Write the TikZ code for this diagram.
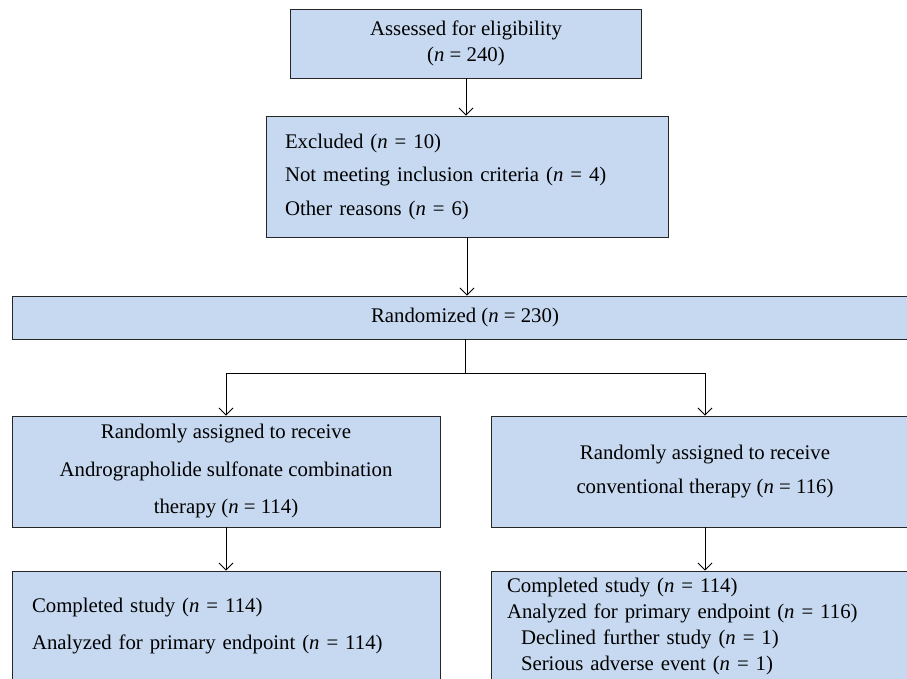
\documentclass[tikz,border=0pt]{standalone}
\usepackage{fontspec}
\setmainfont{Liberation Serif}
\usetikzlibrary{arrows.meta}
\definecolor{boxblue}{RGB}{198,217,240}
\newcommand{\nn}{\textit{n}}
\tikzset{
  boite/.style={draw=black!85, fill=boxblue, line width=0.9pt, inner sep=0pt},
  fleche/.style={-{Straight Barb[length=7pt,width=14pt]}, line width=0.8pt},
}
\begin{document}
\begin{tikzpicture}[x=1pt, y=-1pt, font=\fontsize{20.8}{26}\selectfont]
                \useasboundingbox (0,0) rectangle (907,679);
                \clip (0,0) rectangle (907,679);
                % Boites
                \node[boite, minimum width=351pt, minimum height=69pt, align=center] (eligible) at (466,43.5)
                    {Assessed for eligibility\\(\nn{} = 240)};
                \node[boite, minimum width=402pt, minimum height=121pt, inner xsep=19pt, text width=364pt, align=left,
                      font=\fontsize{20.8}{33.5}\selectfont] (excluded) at (467,176.5)
                    {Excluded (\nn{} = 10)\\Not meeting inclusion criteria (\nn{} = 4)\\Other reasons (\nn{} = 6)};
                \node[boite, minimum width=906pt, minimum height=43pt] (randomized) at (465,317.5)
                    {Randomized (\nn{} = 230)};
                \node[boite, minimum width=428pt, minimum height=111pt, align=center,
                      font=\fontsize{20.8}{37.5}\selectfont] (andro) at (226,471.5)
                    {Randomly assigned to receive\\Andrographolide sulfonate combination\\therapy (\nn{} = 114)};
                \node[boite, minimum width=428pt, minimum height=111pt, align=center,
                      font=\fontsize{20.8}{34}\selectfont] (conv) at (705,471.5)
                    {Randomly assigned to receive\\conventional therapy (\nn{} = 116)};
                \node[boite, minimum width=428pt, minimum height=110pt, inner xsep=20pt, text width=388pt, align=left,
                      font=\fontsize{20.8}{37}\selectfont] (androdone) at (226,626)
                    {Completed study (\nn{} = 114)\\Analyzed for primary endpoint (\nn{} = 114)};
                \node[boite, minimum width=428pt, minimum height=110pt, inner xsep=16pt, text width=396pt, align=left,
                      font=\fontsize{20.8}{26}\selectfont] (convdone) at (705,626)
                    {Completed study (\nn{} = 114)\\Analyzed for primary endpoint (\nn{} = 116)\\
                     \hspace*{14pt}Declined further study (\nn{} = 1)\\\hspace*{14pt}Serious adverse event (\nn{} = 1)};
                % Fleches
                \draw[fleche] (eligible.south) -- (eligible.south |- excluded.north);
                \draw[fleche] (excluded.south) -- (excluded.south |- randomized.north);
                \draw[line width=0.8pt] (randomized.south) -- ++(0,34) coordinate (split);
                \draw[line width=0.8pt] (andro.north |- split) -- (conv.north |- split);
                \foreach \haut/\bas in {andro/androdone,conv/convdone}
                    {
                    \draw[fleche] (\haut.north |- split) -- (\haut.north);
                    \draw[fleche] (\haut.south) -- (\bas.north);
                    }
            \end{tikzpicture}
\end{document}
